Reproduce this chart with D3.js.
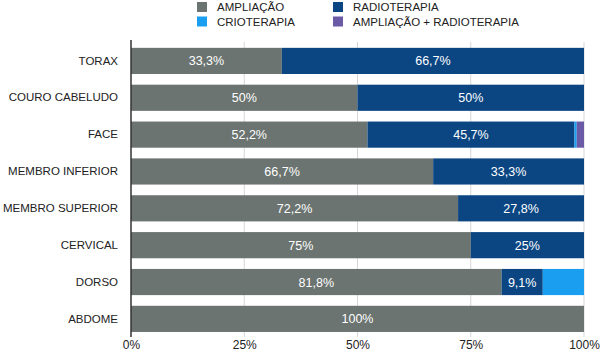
<!DOCTYPE html>
<html>
<head>
<meta charset="utf-8">
<script src="https://cdn.jsdelivr.net/npm/d3@7"></script>
<style>
  html, body { margin: 0; padding: 0; background: #fff; }
  svg { display: block; font-family: "Liberation Sans", Arial, sans-serif; }
</style>
</head>
<body>
<svg id="chart" width="600" height="353"></svg>
<script>
const categories = ["TORAX", "COURO CABELUDO", "FACE", "MEMBRO INFERIOR", "MEMBRO SUPERIOR", "CERVICAL", "DORSO", "ABDOME"];
const seriesNames = ["AMPLIAÇÃO", "RADIOTERAPIA", "CRIOTERAPIA", "AMPLIAÇÃO + RADIOTERAPIA"];
const ampliacao = [33.3, 50, 52.2, 66.7, 72.2, 75, 81.8, 100];
const radioterapia = [66.7, 50, 45.7, 33.3, 27.8, 25, 9.1, 0];
const crioterapia = [0, 0, 0.5, 0, 0, 0, 9.1, 0];
const ampRadio = [0, 0, 1.6, 0, 0, 0, 0, 0];
const ampliacaoLabels = ["33,3%", "50%", "52,2%", "66,7%", "72,2%", "75%", "81,8%", "100%"];
const radioLabels = ["66,7%", "50%", "45,7%", "33,3%", "27,8%", "25%", "9,1%", ""];
const tickLabels = ["0%", "25%", "50%", "75%", "100%"];
const tickValues = [0, 25, 50, 75, 100];
const colors = ["#6b7470", "#0b4683", "#1a9ff0", "#6b5aa6"];

const svg = d3.select("#chart");
const x = d3.scaleLinear().domain([0, 100]).range([131, 584]);
const y = d3.scaleBand().domain(categories).range([42.5, 337.3]).paddingInner(0.29).paddingOuter(0.145);

// gridlines
svg.append("g").selectAll("line").data(tickValues.slice(1)).join("line")
  .attr("x1", d => x(d)).attr("x2", d => x(d))
  .attr("y1", 42).attr("y2", 337)
  .attr("stroke", "#d6d6d6").attr("stroke-width", 1);

// stacked data
const rows = categories.map((c, i) => ({
  cat: c,
  "AMPLIAÇÃO": ampliacao[i],
  "RADIOTERAPIA": radioterapia[i],
  "CRIOTERAPIA": crioterapia[i],
  "AMPLIAÇÃO + RADIOTERAPIA": ampRadio[i]
}));
const stack = d3.stack().keys(seriesNames)(rows);

const layers = svg.append("g").selectAll("g").data(stack).join("g")
  .attr("fill", (d, i) => colors[i]);
layers.selectAll("rect").data(d => d).join("rect")
  .attr("x", d => x(d[0]))
  .attr("width", d => Math.max(0, x(d[1]) - x(d[0])))
  .attr("y", d => y(d.data.cat))
  .attr("height", y.bandwidth());

// value labels
const labelG = svg.append("g").attr("fill", "#fff").attr("font-size", 12.5).attr("text-anchor", "middle");
[[0, ampliacaoLabels], [1, radioLabels]].forEach(([si, labs]) => {
  labelG.selectAll(null).data(stack[si]).join("text")
    .attr("x", d => (x(d[0]) + x(d[1])) / 2)
    .attr("y", d => y(d.data.cat) + y.bandwidth() / 2)
    .attr("dy", "0.36em")
    .text((d, i) => labs[i]);
});

// y axis
const yAxis = svg.append("g").attr("transform", "translate(131,0)")
  .call(d3.axisLeft(y).tickSize(0).tickPadding(13));
yAxis.select(".domain").remove();
yAxis.selectAll("text").attr("font-size", 11.5).attr("fill", "#222").attr("font-family", "Liberation Sans, Arial, sans-serif");
svg.append("line").attr("x1", 131).attr("x2", 131).attr("y1", 40).attr("y2", 337)
  .attr("stroke", "#333").attr("stroke-width", 1.5);

// x axis
const xAxis = svg.append("g").attr("transform", "translate(0,336)")
  .call(d3.axisBottom(x).tickValues(tickValues).tickSize(0).tickPadding(4).tickFormat((d, i) => tickLabels[i]));
xAxis.select(".domain").remove();
xAxis.selectAll("text").attr("font-size", 12).attr("fill", "#222").attr("font-family", "Liberation Sans, Arial, sans-serif");

// legend
const legendItems = [
  {name: "AMPLIAÇÃO", color: colors[0], x: 197, y: 7},
  {name: "RADIOTERAPIA", color: colors[1], x: 333, y: 7},
  {name: "CRIOTERAPIA", color: colors[2], x: 197, y: 21.5},
  {name: "AMPLIAÇÃO + RADIOTERAPIA", color: colors[3], x: 333, y: 21.5}
];
const lg = svg.append("g").selectAll("g").data(legendItems).join("g")
  .attr("transform", d => `translate(${d.x},${d.y})`);
lg.append("rect").attr("x", 0).attr("y", -5).attr("width", 10).attr("height", 10).attr("fill", d => d.color);
lg.append("text").attr("x", 20).attr("dy", "0.36em").attr("font-size", 11.5).attr("fill", "#222").text(d => d.name);
</script>
</body>
</html>
